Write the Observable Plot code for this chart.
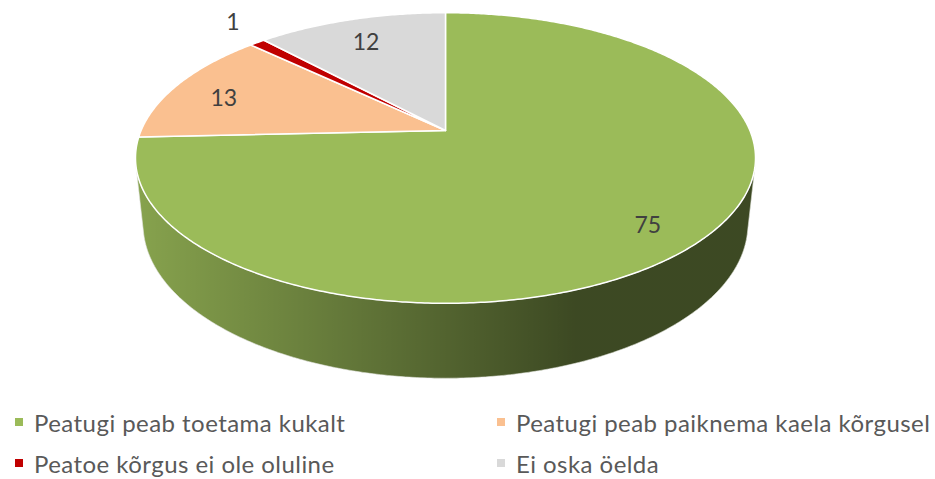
<!DOCTYPE html>
<html><head><meta charset="utf-8">
<script src="https://cdn.jsdelivr.net/npm/d3@7"></script>
<script src="https://cdn.jsdelivr.net/npm/@observablehq/plot@0.6"></script>
<style>
body{margin:0;background:#fff;font-family:Lato,"Open Sans",sans-serif;}
#chart{width:935px;height:479px;position:relative;overflow:hidden;background:#fff}
.item{position:absolute;display:flex;align-items:center;height:26px;font-size:24px;letter-spacing:0.45px;color:#595959;white-space:nowrap}
.sw{width:8px;height:8px;margin-right:11px;flex:none}
</style></head><body><div id="chart"></div>
<script>
const categories = ["Peatugi peab toetama kukalt", "Peatugi peab paiknema kaela kõrgusel", "Peatoe kõrgus ei ole oluline", "Ei oska öelda"];
const values = [75, 13, 1, 12];
const colors = ["#9BBB59", "#FAC090", "#C00000", "#D9D9D9"];
const labelColor = "#404040";
const legendColor = "#595959";

const W = 935, H = 400;
// perspective model of a tilted 3D pie
const cx = 445, cy = 130, s = 304.4, phi = 27.4 * Math.PI / 180, D = 4.69, t = 0.247;
function proj(u, v, h) {
  const yc = v * Math.sin(phi) + h * Math.cos(phi);
  const zc = D + v * Math.cos(phi) - h * Math.sin(phi);
  return {x: cx + s * D * u / zc, y: cy - s * D * yc / zc};
}
const rim = (a, h, r = 1) => proj(r * Math.sin(a), r * Math.cos(a), h);
const arcs = d3.pie().sort(null).value(d => d)(values);
function samples(a0, a1) {
  const n = Math.max(2, Math.ceil((a1 - a0) / 0.01));
  return d3.range(n + 1).map(i => a0 + (a1 - a0) * i / n);
}
const aVis = Math.acos(-1 / (D * Math.cos(phi)));
const aMin = aVis, aMax = 2 * Math.PI - aVis;

const marks = [];
// walls
arcs.forEach((d, i) => {
  const a0 = Math.max(d.startAngle, aMin), a1 = Math.min(d.endAngle, aMax);
  if (a1 <= a0) return;
  const as = samples(a0, a1);
  const pts = [...as.map(a => rim(a, 0)), ...as.slice().reverse().map(a => rim(a, -t))];
  pts.push(pts[0]);
  marks.push(Plot.line(pts, {x: "x", y: "y", fill: colors[i], stroke: "none"}));
  marks.push(Plot.line(pts, {x: "x", y: "y", fill: "url(#shade)", stroke: "#e6e6e6", strokeWidth: 0.6}));
});
// top faces
arcs.forEach((d, i) => {
  const apex = proj(0, 0, 0);
  const pts = [apex, ...samples(d.startAngle, d.endAngle).map(a => rim(a, 0)), apex];
  marks.push(Plot.line(pts, {x: "x", y: "y", fill: colors[i], stroke: "#ffffff", strokeWidth: 1.5, strokeLinejoin: "round"}));
});
// labels
const labels = arcs.map((d, i) => {
  const m = (d.startAngle + d.endAngle) / 2;
  const small = (d.endAngle - d.startAngle) < 0.1;
  const p = rim(m, 0, small ? 1.15 : 0.82);
  return {x: p.x, y: p.y + (small ? -8 : 6), text: String(values[i])};
});
marks.push(Plot.text(labels, {x: "x", y: "y", text: "text", fill: labelColor, fontSize: 23, fontFamily: "Lato"}));

const plot = Plot.plot({
  width: W, height: H, margin: 0,
  x: {domain: [0, W], range: [0, W], axis: null},
  y: {domain: [0, H], range: [0, H], axis: null},
  style: {background: "transparent", overflow: "visible"},
  marks
});
const left = cx - s * 1.02;
const defs = d3.select(plot).insert("defs", ":first-child");
const g = defs.append("linearGradient").attr("id", "shade").attr("gradientUnits", "userSpaceOnUse")
  .attr("x1", left).attr("x2", left + 440).attr("y1", 0).attr("y2", 0);
g.append("stop").attr("offset", 0).attr("stop-color", "#000").attr("stop-opacity", 0.13);
g.append("stop").attr("offset", 1).attr("stop-color", "#000").attr("stop-opacity", 0.61);

const chart = document.getElementById("chart");
chart.appendChild(plot);
// legend
const pos = [[15, 409], [497, 409], [15, 450], [497, 450]];
categories.forEach((c, i) => {
  const it = document.createElement("div");
  it.className = "item";
  it.style.left = pos[i][0] + "px";
  it.style.top = pos[i][1] + "px";
  it.innerHTML = `<span class="sw" style="background:${colors[i]}"></span><span>${c}</span>`;
  chart.appendChild(it);
});
</script></body></html>
